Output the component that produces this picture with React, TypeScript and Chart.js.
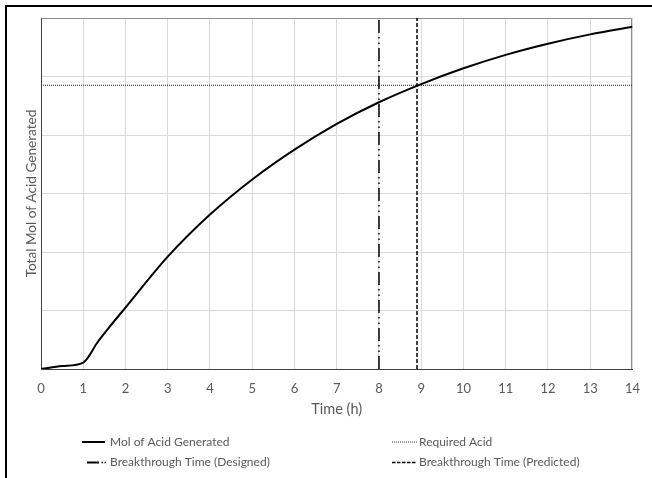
import { useEffect, useRef } from 'react';
import { Chart, registerables } from 'chart.js';

Chart.register(...registerables);

// ---- data ----
const timeH = [0, 0.5, 1, 1.35, 1.6, 2, 3, 4, 5, 6, 7, 8, 9, 10, 11, 12, 13, 14];
const molAcid = [0, 0.05, 0.11, 0.47, 0.7, 1.05, 1.92, 2.64, 3.24, 3.75, 4.19, 4.56, 4.87, 5.14, 5.37, 5.56, 5.72, 5.85];
const requiredAcid = 4.85;
const designedTime = 8;
const predictedTime = 8.9;
const xRange = [0, 14];
const yRange = [0, 6];
const seriesNames = [
  'Mol of Acid Generated',
  'Required Acid',
  'Breakthrough Time (Designed)',
  'Breakthrough Time (Predicted)',
];
const xTitle = 'Time (h)';
const yTitle = 'Total Mol of Acid Generated';

const FONT = 'Lato, "Open Sans", sans-serif';
const TEXT = '#595959';

export default function App() {
  const ref = useRef<HTMLCanvasElement>(null);

  useEffect(() => {
    const canvas = ref.current;
    if (!canvas) return;

    const framePlugin = {
      id: 'framePlugin',
      beforeDraw(chart: any) {
        const { ctx, width, height } = chart;
        ctx.save();
        ctx.fillStyle = '#fff';
        ctx.fillRect(0, 0, width, height);
        ctx.restore();
      },
      beforeDatasetsDraw(chart: any) {
        const { ctx, chartArea } = chart;
        ctx.save();
        ctx.strokeStyle = '#8c8c8c';
        ctx.lineWidth = 1;
        ctx.beginPath();
        ctx.moveTo(Math.round(chartArea.left) + 0.5, Math.round(chartArea.top) + 0.5);
        ctx.lineTo(Math.round(chartArea.right) - 0.5, Math.round(chartArea.top) + 0.5);
        ctx.lineTo(Math.round(chartArea.right) - 0.5, Math.round(chartArea.bottom));
        ctx.stroke();
        ctx.restore();
      },
      afterDraw(chart: any) {
        const { ctx } = chart;
        ctx.save();
        // outer frame (cropped on right/bottom)
        ctx.strokeStyle = '#000';
        ctx.lineWidth = 2;
        ctx.strokeRect(6, 6, 1000, 1000);

        // legend: 2 x 2 grid
        const slots = [
          { x: 82, y: 442, tx: 110 },
          { x: 392, y: 442, tx: 419 },
          { x: 82, y: 462.5, tx: 110 },
          { x: 392, y: 462.5, tx: 419 },
        ];
        const ds = chart.data.datasets;
        const seg = (x0: number, x1: number, y: number, w: number, dash: number[]) => {
          ctx.lineWidth = w;
          ctx.setLineDash(dash);
          ctx.beginPath();
          ctx.moveTo(x0, y);
          ctx.lineTo(x1, y);
          ctx.stroke();
          ctx.setLineDash([]);
        };
        ctx.strokeStyle = '#000';
        // solid
        seg(slots[0].x, slots[0].x + 23, slots[0].y, 2, []);
        // dotted
        ctx.strokeStyle = '#333';
        seg(slots[1].x, slots[1].x + 25, slots[1].y, 1, [1, 1]);
        // long dash dot dot
        ctx.strokeStyle = '#000';
        seg(slots[2].x + 5, slots[2].x + 17, slots[2].y, 2, []);
        seg(slots[2].x + 19.5, slots[2].x + 21, slots[2].y, 1.5, []);
        seg(slots[2].x + 22.5, slots[2].x + 24, slots[2].y, 1.5, []);
        // dashed
        seg(slots[3].x, slots[3].x + 25, slots[3].y, 1.6, [3.5, 1.5]);

        ctx.fillStyle = TEXT;
        ctx.font = `12px ${FONT}`;
        ctx.textBaseline = 'middle';
        ctx.textAlign = 'left';
        ds.forEach((d: any, i: number) => {
          ctx.fillText(d.label, slots[i].tx, slots[i].y);
        });
        ctx.restore();
      },
    };

    const chart = new Chart(canvas, {
      type: 'line',
      data: {
        datasets: [
          {
            label: seriesNames[0],
            data: timeH.map((t, i) => ({ x: t, y: molAcid[i] })),
            borderColor: '#000',
            borderWidth: 2,
            pointRadius: 0,
            cubicInterpolationMode: 'monotone',
          },
          {
            label: seriesNames[1],
            data: [
              { x: xRange[0], y: requiredAcid },
              { x: xRange[1], y: requiredAcid },
            ],
            borderColor: '#222',
            borderWidth: 1,
            borderDash: [1, 1],
            pointRadius: 0,
          },
          {
            label: seriesNames[2],
            data: [
              { x: designedTime, y: yRange[0] },
              { x: designedTime, y: yRange[1] },
            ],
            borderColor: '#000',
            borderWidth: 1.5,
            borderDash: [13, 4, 1.5, 4, 1.5, 4],
            pointRadius: 0,
          },
          {
            label: seriesNames[3],
            data: [
              { x: predictedTime, y: yRange[0] },
              { x: predictedTime, y: yRange[1] },
            ],
            borderColor: '#000',
            borderWidth: 1.5,
            borderDash: [4, 2],
            pointRadius: 0,
          },
        ],
      } as any,
      options: {
        responsive: false,
        animation: false,
        events: [],
        layout: { padding: { left: 20, top: 18, right: 12, bottom: 60 } },
        plugins: {
          legend: { display: false },
          tooltip: { enabled: false },
        },
        scales: {
          x: {
            type: 'linear',
            min: xRange[0],
            max: xRange[1],
            ticks: {
              stepSize: 1,
              color: TEXT,
              font: { family: FONT, size: 13 },
              padding: 12,
            },
            grid: { color: '#d9d9d9', drawTicks: false },
            border: { color: '#404040', width: 1 },
            title: {
              display: true,
              text: xTitle,
              color: TEXT,
              font: { family: FONT, size: 14.5 },
              padding: 0,
            },
            afterFit(scale: any) {
              scale.height = 49;
            },
          },
          y: {
            min: yRange[0],
            max: yRange[1],
            ticks: { display: false, stepSize: 1 },
            grid: { color: '#d9d9d9', drawTicks: false },
            border: { color: '#404040', width: 1 },
            title: {
              display: true,
              text: yTitle,
              color: TEXT,
              font: { family: FONT, size: 13.6 },
              padding: { top: 3, bottom: 0 },
            },
            afterFit(scale: any) {
              scale.width = 21;
            },
          },
        },
      } as any,
      plugins: [framePlugin],
    });

    return () => chart.destroy();
  }, []);

  return (
    <canvas
      ref={ref}
      width={652}
      height={478}
      style={{ position: 'fixed', left: 0, top: 0, width: 652, height: 478 }}
    />
  );
}
